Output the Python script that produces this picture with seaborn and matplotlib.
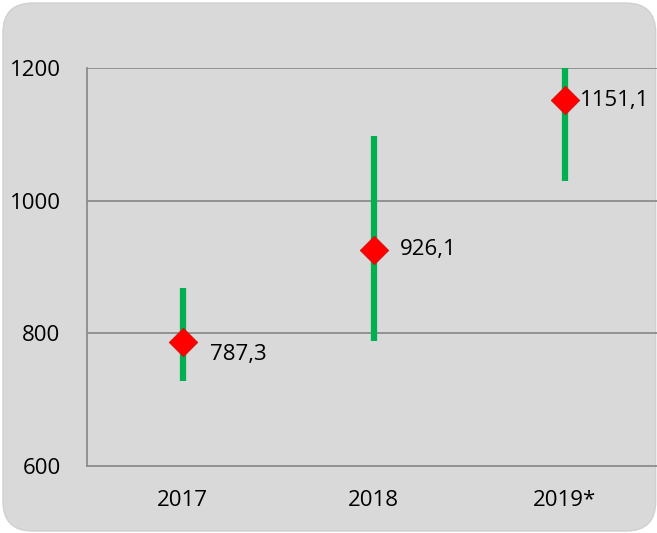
import numpy as np
import matplotlib.pyplot as plt
import seaborn as sns
import pandas as pd
from matplotlib.patches import FancyBboxPatch

# data
years = ["2017", "2018", "2019*"]
values = [787.3, 926.1, 1151.1]
lows = [728, 788, 1030]
highs = [868, 1097, 1215]
labels = ["787,3", "926,1", "1151,1"]

df = pd.DataFrame({"year": years, "value": values, "low": lows, "high": highs})

sns.set_style("white")
plt.rcParams['font.family'] = ['Open Sans', 'DejaVu Sans']
plt.rcParams['text.color'] = 'black'
plt.rcParams['xtick.color'] = 'black'
plt.rcParams['ytick.color'] = 'black'

fig = plt.figure(figsize=(6.57, 5.33), dpi=100)
fig.patch.set_facecolor("white")

# rounded grey chart area
x0, y0 = 3 / 657, 2 / 533
bg = FancyBboxPatch((x0, y0), 1 - x0 - 0.002, 1 - 2 * y0 - 0.002,
                    boxstyle="round,pad=0,rounding_size=0.045",
                    mutation_aspect=657 / 533,
                    transform=fig.transFigure, facecolor="#d9d9d9",
                    edgecolor="#d0d0d0", lw=1, zorder=-1)
fig.patches.append(bg)

ax = fig.add_axes([87 / 657, 1 - 466 / 533, 1 - 87 / 657 + 0.005, (466 - 68) / 533])
ax.set_facecolor("none")
ax.set_zorder(1)

xpos = np.arange(len(years))
ax.vlines(xpos, df["low"], df["high"], color="#00b050", lw=4.5, zorder=2)
sns.scatterplot(data=df, x=xpos, y="value", marker="D", s=210, color="#ff0000",
                edgecolor="#d01010", linewidth=0.6, zorder=3, ax=ax, legend=False)

offsets = [(20, -9), (19, 0), (11, 0)]
for i, (v, lab) in enumerate(zip(values, labels)):
    ax.annotate(lab, (xpos[i], v), xytext=offsets[i], textcoords="offset points",
                ha="left", va="center", fontsize=16, color="black")

ax.set_xlim(-0.5, 2.5)
ax.set_ylim(600, 1200)
ax.set_yticks([600, 800, 1000, 1200])
ax.set_xticks(xpos)
ax.set_xticklabels(years)
ax.set_xlabel("")
ax.set_ylabel("")
ax.tick_params(axis="y", length=0, pad=19, labelsize=16)
ax.tick_params(axis="x", length=0, pad=17, labelsize=16)
for y in [800, 1000, 1200]:
    ax.axhline(y, color="#8c8c8c", lw=1.3, zorder=1)
for s in ["top", "right"]:
    ax.spines[s].set_visible(False)
for s in ["left", "bottom"]:
    ax.spines[s].set_color("#8c8c8c")
    ax.spines[s].set_linewidth(1.3)

fig.savefig("out.png", dpi=100)
